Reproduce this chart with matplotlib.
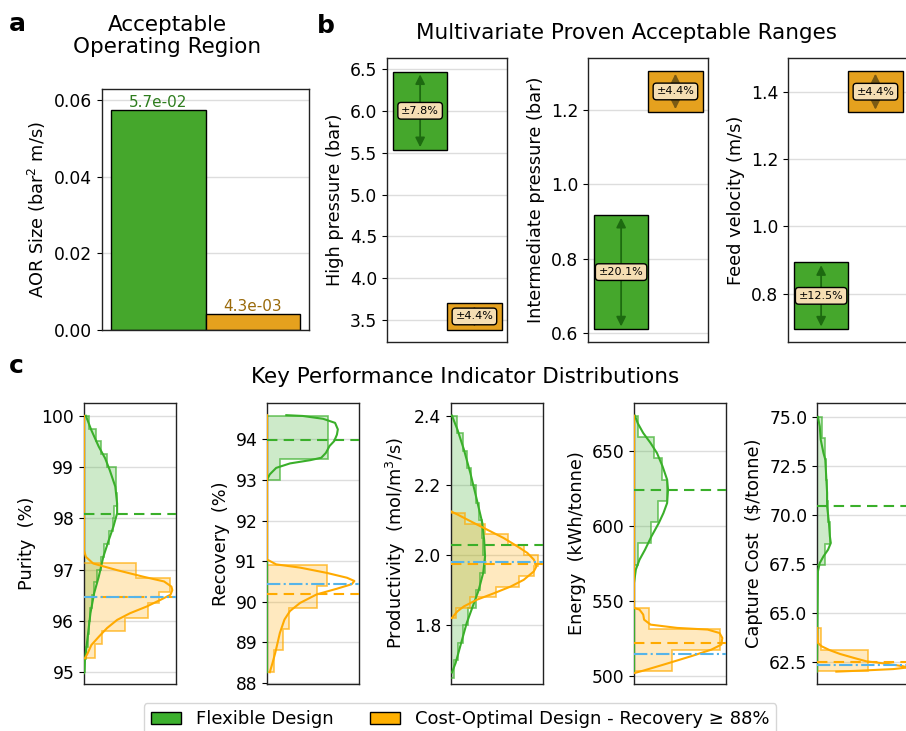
import matplotlib
matplotlib.use("Agg")
import matplotlib.pyplot as plt
from matplotlib.patches import Patch
import numpy as np

plt.rcParams["font.family"] = "DejaVu Sans"
plt.rcParams["font.size"] = 13
plt.rcParams["axes.labelsize"] = 12.8

W, H = 906, 731

# colours
GREEN = "#45a72c"
ORANGE = "#e5a11e"
KGREEN = "#3aaf2a"
KORANGE = "#ffaa00"
BLUE = "#56b4e9"

# ---------------- panel a : AOR size
aor_designs = ["Flexible Design", "Cost-Optimal Design"]
aor_size = [0.0574, 0.0043]

# ---------------- panel b : proven acceptable ranges (centre, +/- %)
par_names = ["High pressure (bar)", "Intermediate pressure (bar)", "Feed velocity (m/s)"]
par_flex_centre = [6.00, 0.764, 0.794]
par_flex_pct = [7.8, 20.1, 12.5]
par_cost_centre = [3.545, 1.25, 1.40]
par_cost_pct = [4.4, 4.4, 4.4]

# ---------------- panel c : KPI distributions (density scaled to axis width)
purity_flex_edges = [95.0, 95.25, 95.5, 95.75, 96.0, 96.25, 96.5, 96.75, 97.0, 97.25, 97.5,
                     97.75, 98.0, 98.25, 98.5, 98.75, 99.0, 99.25, 99.5, 99.75, 100.0]
purity_flex_hist = [0.01, 0.02, 0.04, 0.05, 0.07, 0.09, 0.11, 0.14, 0.18, 0.22, 0.27, 0.31,
                    0.33, 0.36, 0.35, 0.35, 0.25, 0.19, 0.13, 0.05]
purity_flex_kde_y = [94.98, 95.24, 95.69, 96.15, 96.54, 96.86, 97.25, 97.58, 97.84, 98.10, 98.29,
                     98.62, 98.94, 99.17, 99.40, 99.72, 100.0]
purity_flex_kde_d = [0.0, 0.01, 0.04, 0.07, 0.11, 0.16, 0.21, 0.27, 0.32, 0.36, 0.36, 0.34, 0.28,
                     0.23, 0.16, 0.08, 0.02]
purity_cost_edges = [95.27, 95.55, 95.80, 96.06, 96.34, 96.57, 96.84, 97.12]
purity_cost_hist = [0.12, 0.20, 0.45, 0.70, 0.82, 0.94, 0.56]
purity_cost_kde_y = [95.27, 95.37, 95.53, 95.69, 95.86, 96.02, 96.15, 96.28, 96.41, 96.51, 96.60,
                     96.67, 96.77, 96.86, 96.99, 97.12, 97.25, 97.38, 100.0]
purity_cost_kde_d = [0.01, 0.04, 0.08, 0.16, 0.25, 0.36, 0.50, 0.68, 0.83, 0.94, 0.96, 0.95, 0.87,
                     0.65, 0.36, 0.10, 0.02, 0.0, 0.0]
purity_lines = [98.08, 96.46, 96.47]  # flexible mean, cost-optimal mean, nominal

recovery_flex_edges = [93.01, 93.53, 94.05, 94.57]
recovery_flex_hist = [0.145, 0.665, 0.665]
recovery_flex_kde_y = [88.26, 93.01, 93.14, 93.30, 93.41, 93.49, 93.55, 93.67, 93.84, 93.96, 94.12,
                       94.25, 94.41, 94.51, 94.58, 94.60]
recovery_flex_kde_d = [0.0, 0.0, 0.03, 0.10, 0.25, 0.47, 0.59, 0.64, 0.68, 0.73, 0.76, 0.77, 0.74,
                       0.61, 0.39, 0.21]
recovery_cost_edges = [88.27, 88.80, 89.33, 89.85, 90.38, 90.90]
recovery_cost_hist = [0.08, 0.17, 0.24, 0.54, 0.65]
recovery_cost_kde_y = [88.26, 88.49, 88.74, 89.23, 89.56, 89.77, 89.97, 90.18, 90.32, 90.43, 90.51,
                       90.59, 90.71, 90.84, 90.92, 91.04, 94.60]
recovery_cost_kde_d = [0.03, 0.06, 0.09, 0.14, 0.19, 0.25, 0.36, 0.54, 0.76, 0.92, 0.95, 0.87, 0.65,
                       0.36, 0.10, 0.0, 0.0]
recovery_lines = [93.98, 90.18, 90.43]

prod_flex_edges = [1.65, 1.70, 1.75, 1.80, 1.85, 1.90, 1.95, 2.00, 2.05, 2.10, 2.15, 2.20, 2.25,
                   2.30, 2.35, 2.40]
prod_flex_hist = [0.03, 0.08, 0.13, 0.19, 0.27, 0.31, 0.37, 0.35, 0.34, 0.30, 0.27, 0.22, 0.17,
                  0.13, 0.07]
prod_flex_kde_y = [1.665, 1.692, 1.749, 1.806, 1.864, 1.90, 1.95, 1.997, 2.045, 2.093, 2.16, 2.236,
                   2.303, 2.36, 2.40]
prod_flex_kde_d = [0.01, 0.05, 0.11, 0.17, 0.25, 0.30, 0.35, 0.37, 0.36, 0.34, 0.28, 0.21, 0.14,
                   0.07, 0.01]
prod_cost_edges = [1.82, 1.85, 1.88, 1.91, 1.94, 1.97, 2.00, 2.03, 2.06, 2.09, 2.12]
prod_cost_hist = [0.05, 0.21, 0.49, 0.74, 0.90, 0.95, 0.79, 0.62, 0.37, 0.15]
prod_cost_kde_y = [1.821, 1.84, 1.854, 1.873, 1.892, 1.911, 1.93, 1.954, 1.969, 1.988, 2.007,
                   2.026, 2.05, 2.074, 2.098, 2.117, 2.126]
prod_cost_kde_d = [0.01, 0.07, 0.14, 0.28, 0.47, 0.65, 0.79, 0.90, 0.93, 0.90, 0.83, 0.72, 0.57,
                   0.39, 0.21, 0.07, 0.0]
prod_lines = [2.029, 1.976, 1.981]

energy_flex_edges = [573.9, 588.2, 602.2, 616.4, 630.7, 644.9, 659.1, 673.3]
energy_flex_hist = [0.04, 0.18, 0.26, 0.36, 0.30, 0.22, 0.04]
energy_flex_kde_y = [501.8, 561.8, 570.7, 577.3, 584.0, 592.9, 601.8, 608.4, 615.1, 624.0, 630.7,
                     639.6, 648.4, 655.1, 661.8, 668.4, 673.3]
energy_flex_kde_d = [0.0, 0.0, 0.02, 0.06, 0.12, 0.19, 0.27, 0.32, 0.36, 0.37, 0.36, 0.31, 0.25,
                     0.18, 0.10, 0.04, 0.01]
energy_cost_edges = [502.9, 517.3, 531.1, 545.1]
energy_cost_hist = [0.41, 0.94, 0.16]
energy_cost_kde_y = [501.8, 503.3, 507.3, 512.9, 517.3, 520.7, 525.1, 528.4, 530.7, 531.8, 534.0,
                     537.3, 540.7, 544.0, 545.1, 673.3]
energy_cost_kde_d = [0.01, 0.10, 0.32, 0.62, 0.84, 0.95, 0.96, 0.93, 0.80, 0.47, 0.18, 0.11, 0.10,
                     0.06, 0.0, 0.0]
energy_lines = [624.0, 521.8, 514.7]

capcost_flex_edges = [67.48, 68.55, 69.63, 70.70, 71.78, 72.85, 73.93, 75.00]
capcost_flex_hist = [0.09, 0.14, 0.12, 0.11, 0.10, 0.09, 0.05]
capcost_flex_kde_y = [62.03, 67.14, 67.56, 67.90, 68.24, 68.58, 68.92, 69.60, 70.45, 71.13, 71.98,
                      72.83, 73.17, 73.85, 74.52, 75.0]
capcost_flex_kde_d = [0.0, 0.01, 0.03, 0.07, 0.12, 0.15, 0.14, 0.13, 0.11, 0.11, 0.10, 0.09, 0.07,
                      0.04, 0.03, 0.01]
capcost_cost_edges = [62.05, 63.15, 64.25]
capcost_cost_hist = [0.55, 0.04]
capcost_cost_kde_y = [62.03, 62.08, 62.16, 62.24, 62.30, 62.43, 62.55, 62.73, 62.93, 63.12, 63.32,
                      63.49, 64.25]
capcost_cost_kde_d = [0.21, 0.47, 0.83, 0.98, 0.94, 0.76, 0.54, 0.40, 0.25, 0.14, 0.05, 0.01, 0.0]
capcost_lines = [70.48, 62.50, 62.37]

kpi_labels = ["Purity  (%)", "Recovery  (%)", "Productivity  (mol/m$^3$/s)",
              "Energy  (kWh/tonne)", "Capture Cost  (\\$/tonne)"]


def px_rect(x0, y0, x1, y1):
    return [x0 / W, 1 - y1 / H, (x1 - x0) / W, (y1 - y0) / H]


def style_axes(ax, tick_size=12.3):
    ax.grid(axis="y", color="#dddddd", lw=1, zorder=0)
    ax.set_axisbelow(True)
    ax.set_xticks([])
    ax.tick_params(axis="y", labelsize=tick_size)
    for s in ax.spines.values():
        s.set_color("#222222")
        s.set_linewidth(1)


fig = plt.figure(figsize=(W / 100, H / 100), dpi=100)

# ---------------- panel a
ax = fig.add_axes(px_rect(102, 89, 309, 330))
bars = ax.bar([0, 1], aor_size, width=1, color=[GREEN, ORANGE], edgecolor="black", lw=1, zorder=2)
for x, v, c in zip([0, 1], aor_size, ["#2e7d1e", "#9a6a0a"]):
    ax.text(x, v, f"{v:.1e}", ha="center", va="bottom", fontsize=11, color=c)
ax.set_xlim(-0.6, 1.6)
ax.set_ylim(0, 0.063)
ax.set_yticks([0, 0.02, 0.04, 0.06])
ax.set_ylabel("AOR Size (bar$^2$ m/s)")
style_axes(ax)
fig.text(167 / W, 1 - 36 / H, "Acceptable\nOperating Region", ha="center", va="center",
         fontsize=15.5, linespacing=1.1)
fig.text(9 / W, 1 - 31 / H, "a", fontsize=18, fontweight="bold")

# ---------------- panel b
b_lefts = [387, 588, 788]
b_ylims = [(3.24, 6.63), (0.576, 1.34), (0.657, 1.50)]
b_ticks = [[3.5, 4.0, 4.5, 5.0, 5.5, 6.0, 6.5], [0.6, 0.8, 1.0, 1.2], [0.8, 1.0, 1.2, 1.4]]
for i in range(3):
    ax = fig.add_axes(px_rect(b_lefts[i], 58, b_lefts[i] + 120, 342))
    for x, cen, pct, col, acol in [(0, par_flex_centre[i], par_flex_pct[i], GREEN, "#1d6a10"),
                                   (1, par_cost_centre[i], par_cost_pct[i], ORANGE, "#7a5a14")]:
        lo = cen * (1 - pct / 100)
        hi = cen * (1 + pct / 100)
        ax.bar(x, hi - lo, bottom=lo, width=1, color=col, edgecolor="black", lw=1, zorder=2)
        ax.annotate("", xy=(x, hi), xytext=(x, lo),
                    arrowprops=dict(arrowstyle="<|-|>", color=acol, lw=1.3, mutation_scale=14),
                    zorder=3)
        ax.text(x, cen, f"±{pct:.1f}%", ha="center", va="center", fontsize=8, zorder=4,
                bbox=dict(boxstyle="round,pad=0.3", fc="#f5deb3", ec="black", lw=1))
    ax.set_xlim(-0.61, 1.6)
    ax.set_ylim(*b_ylims[i])
    ax.set_yticks(b_ticks[i])
    ax.set_ylabel(par_names[i])
    style_axes(ax)
fig.text(626 / W, 1 - 33 / H, "Multivariate Proven Acceptable Ranges", ha="center",
         va="center", fontsize=15.5)
fig.text(317 / W, 1 - 33 / H, "b", fontsize=18, fontweight="bold")

# ---------------- panel c
kpis = [
    (purity_flex_edges, purity_flex_hist, purity_flex_kde_y, purity_flex_kde_d,
     purity_cost_edges, purity_cost_hist, purity_cost_kde_y, purity_cost_kde_d, purity_lines),
    (recovery_flex_edges, recovery_flex_hist, recovery_flex_kde_y, recovery_flex_kde_d,
     recovery_cost_edges, recovery_cost_hist, recovery_cost_kde_y, recovery_cost_kde_d, recovery_lines),
    (prod_flex_edges, prod_flex_hist, prod_flex_kde_y, prod_flex_kde_d,
     prod_cost_edges, prod_cost_hist, prod_cost_kde_y, prod_cost_kde_d, prod_lines),
    (energy_flex_edges, energy_flex_hist, energy_flex_kde_y, energy_flex_kde_d,
     energy_cost_edges, energy_cost_hist, energy_cost_kde_y, energy_cost_kde_d, energy_lines),
    (capcost_flex_edges, capcost_flex_hist, capcost_flex_kde_y, capcost_flex_kde_d,
     capcost_cost_edges, capcost_cost_hist, capcost_cost_kde_y, capcost_cost_kde_d, capcost_lines),
]
c_lefts = [84, 267, 451, 634, 817]
c_ylims = [(94.77, 100.25), (87.97, 94.90), (1.632, 2.436), (494.4, 681.8), (61.40, 75.71)]
c_ticks = [[95, 96, 97, 98, 99, 100], [88, 89, 90, 91, 92, 93, 94], [1.8, 2.0, 2.2, 2.4],
           [500, 550, 600, 650], [62.5, 65.0, 67.5, 70.0, 72.5, 75.0]]
for i, (fe, fh, fky, fkd, ce, ch, cky, ckd, lines) in enumerate(kpis):
    ax = fig.add_axes(px_rect(c_lefts[i], 403, c_lefts[i] + 92, 684))
    for edges, hist, ky, kd, col in [(fe, fh, fky, fkd, KGREEN), (ce, ch, cky, ckd, KORANGE)]:
        ax.stairs(hist, edges, orientation="horizontal", baseline=0, fill=True, color=col,
                  alpha=0.25, lw=0, zorder=2)
        ax.stairs(hist, edges, orientation="horizontal", baseline=0, color=col, alpha=0.7,
                  lw=1.2, zorder=3)
        ax.plot(kd, ky, color=col, lw=1.5, zorder=4)
    ax.axhline(lines[0], color=KGREEN, ls=(0, (5, 3)), lw=1.5, zorder=5)
    ax.axhline(lines[1], color=KORANGE, ls=(0, (5, 3)), lw=1.5, zorder=5)
    ax.axhline(lines[2], color=BLUE, ls="-.", lw=1.5, zorder=6)
    ax.set_xlim(0, 1)
    ax.set_ylim(*c_ylims[i])
    ax.set_yticks(c_ticks[i])
    ax.set_ylabel(kpi_labels[i])
    style_axes(ax)
fig.text(465 / W, 1 - 377 / H, "Key Performance Indicator Distributions", ha="center",
         va="center", fontsize=15.5)
fig.text(9 / W, 1 - 373 / H, "c", fontsize=18, fontweight="bold")

handles = [Patch(facecolor="#3cb02d", edgecolor="black", label="Flexible Design"),
           Patch(facecolor="#ffb000", edgecolor="black", label="Cost-Optimal Design - Recovery ≥ 88%")]
fig.legend(handles=handles, loc="upper center", bbox_to_anchor=(460 / W, 1 - 694 / H), ncol=2,
           fontsize=13, handlelength=1.7, columnspacing=2.0, fancybox=True)

fig.savefig("out.png", dpi=100)
